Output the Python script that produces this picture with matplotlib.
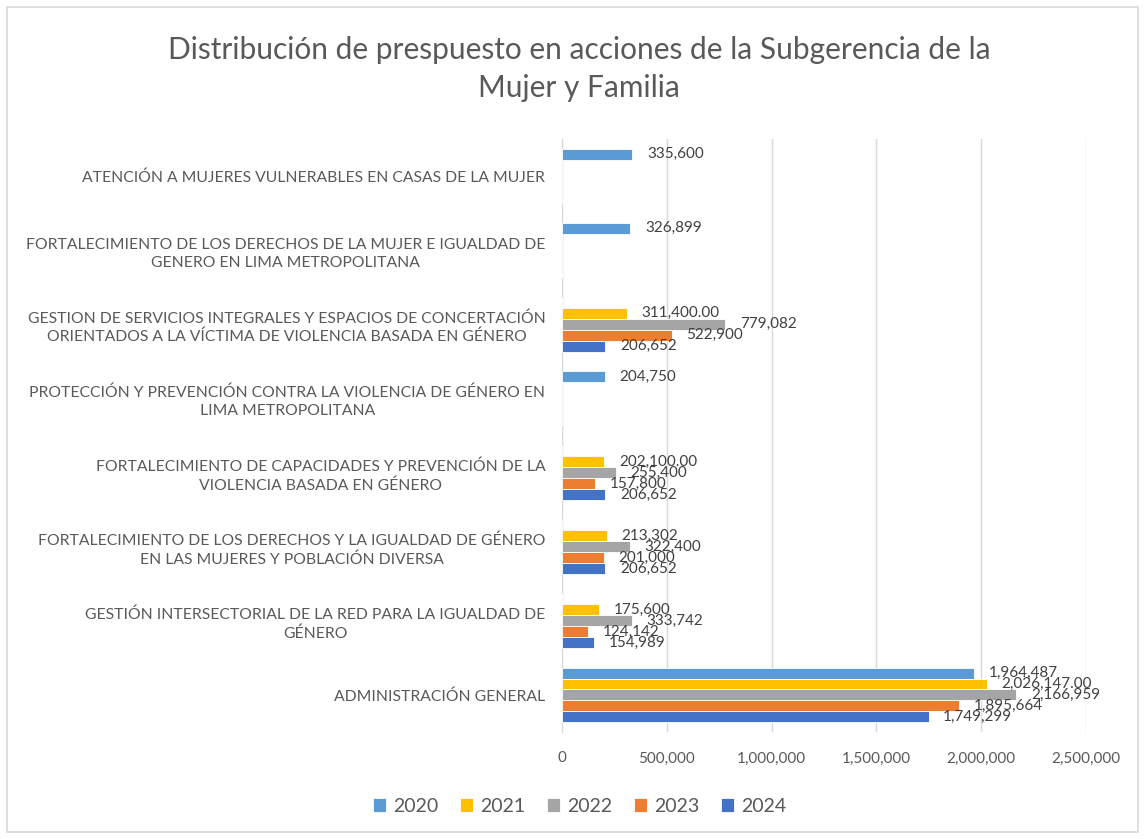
import numpy as np
import matplotlib.pyplot as plt
from matplotlib.patches import Rectangle

plt.rcParams['font.family'] = ['Lato', 'DejaVu Sans']

# acciones de la subgerencia (de arriba hacia abajo)
categorias = [
    "ATENCIÓN A MUJERES VULNERABLES EN CASAS DE LA MUJER",
    "FORTALECIMIENTO DE LOS DERECHOS DE LA MUJER E IGUALDAD DE\nGENERO EN LIMA METROPOLITANA",
    "GESTION DE SERVICIOS INTEGRALES Y ESPACIOS DE CONCERTACIÓN\nORIENTADOS A LA VÍCTIMA DE VIOLENCIA BASADA EN GÉNERO",
    "PROTECCIÓN Y PREVENCIÓN CONTRA LA VIOLENCIA DE GÉNERO EN\nLIMA METROPOLITANA",
    "FORTALECIMIENTO DE CAPACIDADES Y PREVENCIÓN DE LA\nVIOLENCIA BASADA EN GÉNERO",
    "FORTALECIMIENTO DE LOS DERECHOS Y LA IGUALDAD DE GÉNERO\nEN LAS MUJERES Y POBLACIÓN DIVERSA",
    "GESTIÓN INTERSECTORIAL DE LA RED PARA LA IGUALDAD DE\nGÉNERO",
    "ADMINISTRACIÓN GENERAL",
]

nan = np.nan
anios = ["2020", "2021", "2022", "2023", "2024"]
p2020 = [335600, 326899, nan, 204750, nan, nan, nan, 1964487]
p2021 = [nan, nan, 311400, nan, 202100, 213302, 175600, 2026147]
p2022 = [nan, nan, 779082, nan, 255400, 322400, 333742, 2166959]
p2023 = [nan, nan, 522900, nan, 157800, 201000, 124142, 1895664]
p2024 = [nan, nan, 206652, nan, 206652, 206652, 154989, 1749299]
# decimales mostrados en las etiquetas de 2021
dec2021 = [0, 0, 2, 0, 2, 0, 0, 2]

series = [p2020, p2021, p2022, p2023, p2024]
decimales = [[0] * 8, dec2021, [0] * 8, [0] * 8, [0] * 8]
colores = ["#5B9BD5", "#FFC000", "#A5A5A5", "#ED7D31", "#4472C4"]

fig = plt.figure(figsize=(11.45, 8.39), dpi=100)
fig.patches.append(Rectangle((7 / 1145, 7 / 839), 1131 / 1145, 825 / 839,
                             transform=fig.transFigure, fill=False,
                             edgecolor="#D9D9D9", linewidth=1.2))
ax = fig.add_axes([0.4908, 0.1275, 0.4577, 0.7068])

y = np.arange(len(categorias))
h = 0.148
for j, (vals, col) in enumerate(zip(series, colores)):
    pos = y + (j - 2) * h
    v = np.array(vals, dtype=float)
    ax.barh(pos, np.nan_to_num(v), height=h, color=col, edgecolor="white",
            linewidth=0.6, label=anios[j], zorder=3)
    for k, val in enumerate(v):
        if np.isnan(val):
            continue
        txt = f"{val:,.{decimales[j][k]}f}"
        ax.annotate(txt, (val, pos[k]), xytext=(10.5, 0), textcoords="offset points",
                    va="center", ha="left", fontsize=11, color="#404040", zorder=4)

ax.set_xlim(0, 2500000)
ax.set_ylim(len(categorias) - 0.5, -0.5)
ax.set_xticks(np.arange(0, 2500001, 500000))
ax.xaxis.set_major_formatter(plt.FuncFormatter(lambda v, p: f"{v:,.0f}"))
ax.set_yticks(y)
ax.set_yticklabels(categorias, multialignment="center", linespacing=1.35)
ax.tick_params(axis="y", length=0, pad=12, labelsize=11.3, labelcolor="#595959")
ax.tick_params(axis="x", length=0, pad=14, labelsize=11, labelcolor="#595959")
ax.grid(axis="x", color="#D9D9D9", linewidth=1, zorder=0)
for s in ["top", "right", "bottom"]:
    ax.spines[s].set_visible(False)
ax.spines["left"].set_color("#D9D9D9")

fig.text(0.506, 0.918, "Distribución de prespuesto en acciones de la Subgerencia de la\nMujer y Familia",
         ha="center", va="center", multialignment="center", fontsize=21.5,
         color="#595959", linespacing=1.45)

fig.legend(loc="center", bbox_to_anchor=(0.506, 0.039), ncol=5, frameon=False,
           fontsize=14, handlelength=0.7, handleheight=0.7, columnspacing=1.1,
           handletextpad=0.35, labelcolor="#595959")

fig.savefig("out.png", dpi=100)
